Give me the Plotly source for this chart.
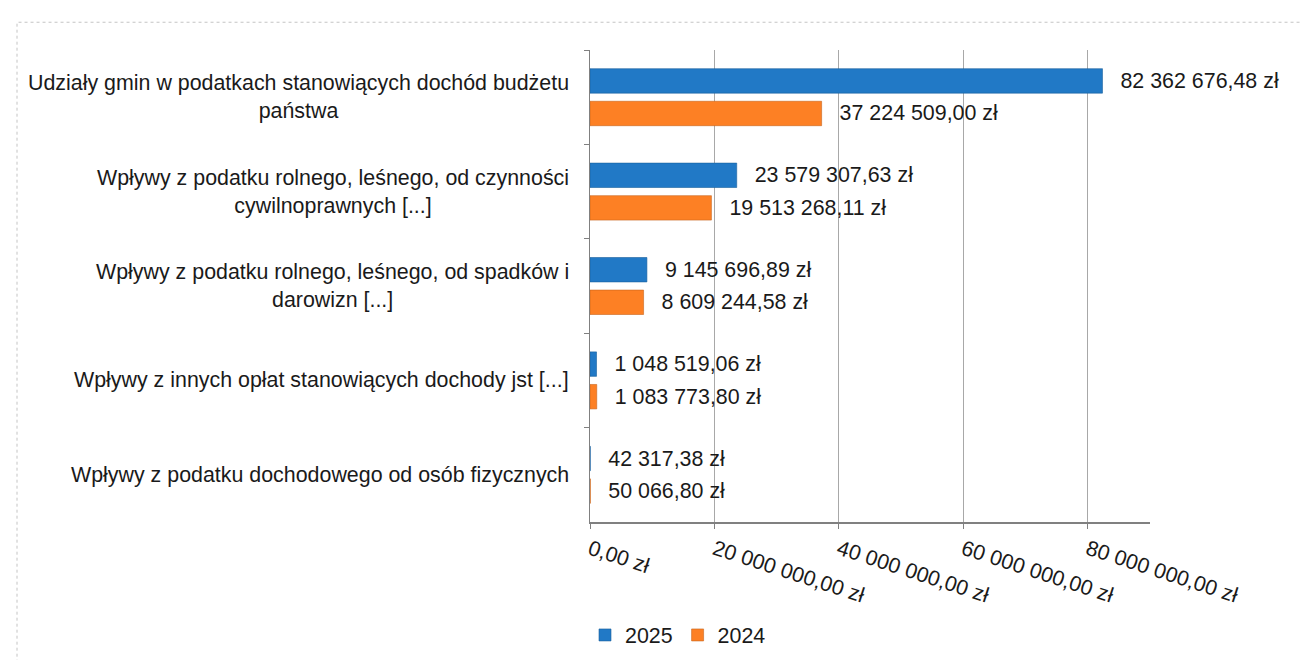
import plotly.graph_objects as go

categories = [
    "Udziały gmin w podatkach stanowiących dochód budżetu<br>państwa",
    "Wpływy z podatku rolnego, leśnego, od czynności<br>cywilnoprawnych [...]",
    "Wpływy z podatku rolnego, leśnego, od spadków i<br>darowizn [...]",
    "Wpływy z innych opłat stanowiących dochody jst [...]",
    "Wpływy z podatku dochodowego od osób fizycznych",
]
values_2025 = [82362676.48, 23579307.63, 9145696.89, 1048519.06, 42317.38]
values_2024 = [37224509.00, 19513268.11, 8609244.58, 1083773.80, 50066.80]
x_tickvals = [0, 20000000, 40000000, 60000000, 80000000]


def fmt(v):
    return f"{v:,.2f}".replace(",", " ").replace(".", ",") + " zł"


x_ticktext = [fmt(v) for v in x_tickvals]

FONT = "Liberation Sans, Arial, sans-serif"
FS = 21.4
TXT = "#1a1a1a"
W, H = 1309, 660
L, R, T, B = 582, 1142, 42, 518
PW, PH = R - L, B - T


def px2x(px):
    return (px - L) / PW


def py2y(py):
    return (B - py) / PH


fig = go.Figure()
for name, vals, col, lcol in [
    ("2025", values_2025, "#2179c6", "#1a5f9c"),
    ("2024", values_2024, "#fd8024", "#c8641c"),
]:
    fig.add_trace(go.Bar(
        y=categories, x=vals, name=name, orientation="h",
        marker=dict(color=col, line=dict(color=lcol, width=0.6)),
        text=["\u2002\u2009" + fmt(v) for v in vals],
        textposition="outside", cliponaxis=False, constraintext="none",
        textfont=dict(family=FONT, size=FS, color=TXT),
    ))

annotations = [
    dict(text=c, xref="paper", yref="y", x=px2x(563), y=c,
         xanchor="right", yanchor="middle", align="center", showarrow=False,
         font=dict(family=FONT, size=FS, color=TXT))
    for c in categories
]

fig.update_layout(
    width=W, height=H,
    margin=dict(l=L, r=W - R, t=T, b=H - B, pad=0),
    paper_bgcolor="white", plot_bgcolor="white",
    barmode="group", bargap=0.31, bargroupgap=0.25,
    font=dict(family=FONT, size=FS, color=TXT),
    showlegend=True,
    legend=dict(orientation="h", x=px2x(670), xanchor="center",
                y=py2y(632), yanchor="middle",
                font=dict(family=FONT, size=FS, color=TXT),
                itemwidth=30, tracegroupgap=0),
    xaxis=dict(range=[0, 90000000], tickvals=x_tickvals, ticktext=x_ticktext,
               tickangle=18, showgrid=True, gridcolor="#a8a8a8", gridwidth=1,
               zeroline=False, showline=True, linecolor="#808080", linewidth=1.5,
               ticks="outside", ticklen=5, tickcolor="#808080",
               tickfont=dict(family=FONT, size=FS, color=TXT)),
    yaxis=dict(autorange="reversed", showline=True, linecolor="#808080",
               linewidth=1, ticks="outside", ticklen=5, tickcolor="#808080",
               tickson="boundaries", showgrid=False, showticklabels=False),
    annotations=annotations,
    shapes=[dict(type="rect", xref="paper", yref="paper",
                 x0=px2x(9), x1=px2x(1306), y0=py2y(664), y1=py2y(14),
                 line=dict(color="#c4c4c4", width=1, dash="dot"),
                 fillcolor="rgba(0,0,0,0)", layer="below")],
)

fig.write_html("out.html")
